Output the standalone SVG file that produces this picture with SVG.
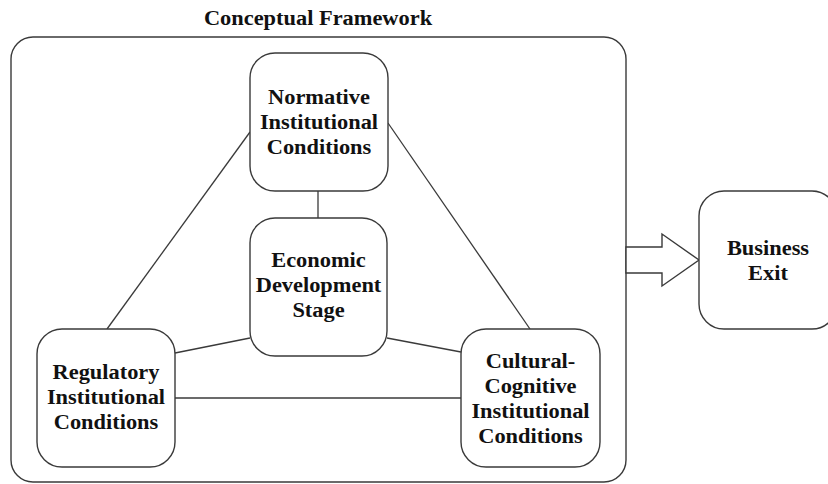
<svg xmlns="http://www.w3.org/2000/svg" width="828" height="484" viewBox="0 0 828 484">
<style>
.box{fill:#fff;stroke:#3a3a3a;stroke-width:1.4}
.ln{fill:none;stroke:#3a3a3a;stroke-width:1.3}
.t{font-family:"Liberation Serif","Times New Roman",serif;font-weight:bold;font-size:20px;fill:#111;text-anchor:middle}
</style>
<rect width="828" height="484" fill="#fff"/>
<g id="frame">
<rect class="box" x="11" y="37" width="615" height="445" rx="22"/>
<text class="t" transform="translate(318,0) scale(1.12,1)" x="0" y="25">Conceptual Framework</text>
</g>
<g id="connectors">
<line class="ln" x1="250" y1="132" x2="107" y2="329"/>
<line class="ln" x1="388" y1="123" x2="530" y2="329"/>
<line class="ln" x1="318" y1="191" x2="318" y2="218"/>
<line class="ln" x1="250" y1="338" x2="175" y2="353"/>
<line class="ln" x1="387" y1="338" x2="461" y2="352"/>
<line class="ln" x1="175" y1="398" x2="461" y2="398"/>
<polygon class="box" points="626,247 662,247 662,234 699,260 662,286 662,273 626,273"/>
</g>
<g id="normative">
<rect class="box" x="250" y="53" width="138" height="138" rx="25"/>
<text class="t" transform="translate(319,0) scale(1.12,1)"><tspan x="0" y="104">Normative</tspan><tspan x="0" y="129">Institutional</tspan><tspan x="0" y="154">Conditions</tspan></text>
</g>
<g id="economic">
<rect class="box" x="250" y="218" width="137" height="138" rx="25"/>
<text class="t" transform="translate(318.5,0) scale(1.12,1)"><tspan x="0" y="267">Economic</tspan><tspan x="0" y="292">Development</tspan><tspan x="0" y="317">Stage</tspan></text>
</g>
<g id="regulatory">
<rect class="box" x="37" y="329" width="138" height="138" rx="25"/>
<text class="t" transform="translate(106,0) scale(1.12,1)"><tspan x="0" y="379">Regulatory</tspan><tspan x="0" y="404">Institutional</tspan><tspan x="0" y="429">Conditions</tspan></text>
</g>
<g id="cultural">
<rect class="box" x="461" y="329" width="139" height="138" rx="25"/>
<text class="t" transform="translate(530.5,0) scale(1.12,1)"><tspan x="0" y="368">Cultural-</tspan><tspan x="0" y="393">Cognitive</tspan><tspan x="0" y="418">Institutional</tspan><tspan x="0" y="443">Conditions</tspan></text>
</g>
<g id="business">
<rect class="box" x="699" y="191" width="138" height="138" rx="25"/>
<text class="t" transform="translate(768,0) scale(1.12,1)"><tspan x="0" y="255">Business</tspan><tspan x="0" y="280">Exit</tspan></text>
</g>
</svg>
